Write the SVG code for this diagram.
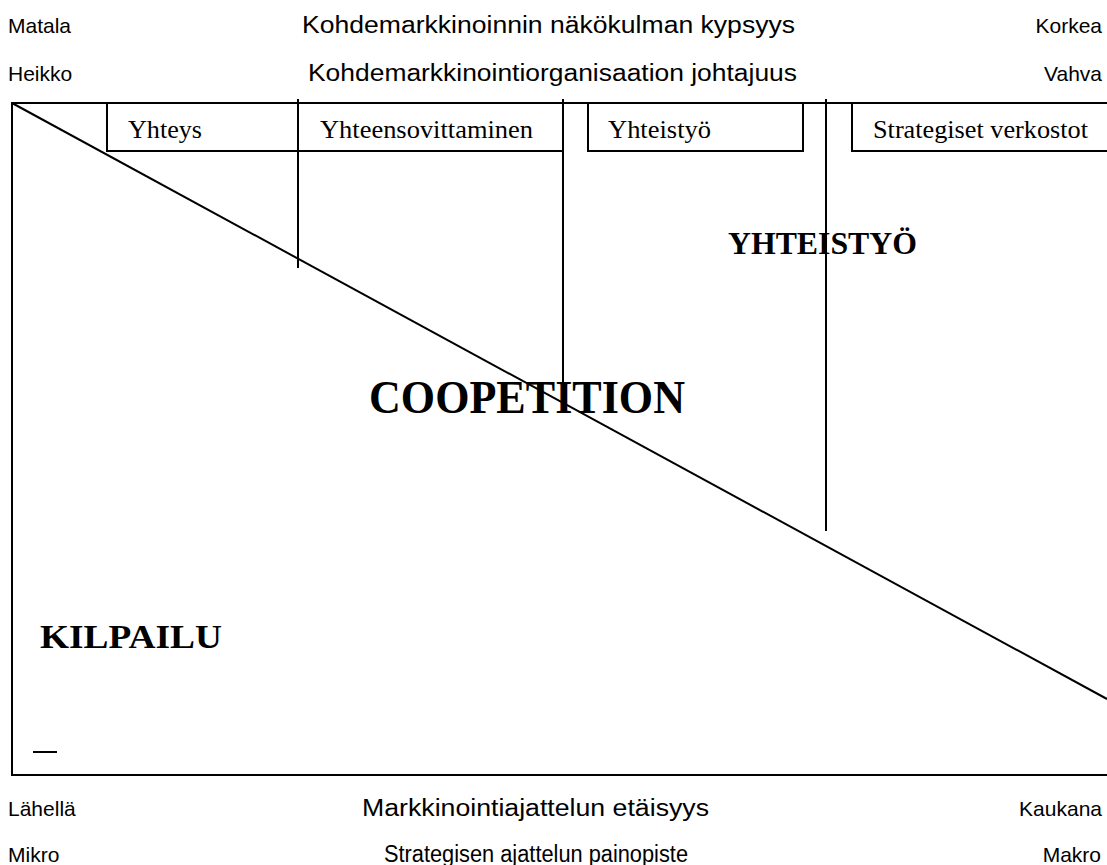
<svg xmlns="http://www.w3.org/2000/svg" width="1107" height="865" viewBox="0 0 1107 865">
  <style>
    .axis { font-family: "Liberation Sans", Arial, sans-serif; font-size: 21px; fill: #000; }
    .title { font-family: "Liberation Sans", Arial, sans-serif; font-size: 23px; fill: #000; }
    .box { fill: #fff; stroke: #000; stroke-width: 2; }
    .boxlabel { font-family: "Liberation Serif", "Times New Roman", serif; font-size: 26px; fill: #000; }
    .zone { font-family: "Liberation Serif", "Times New Roman", serif; font-weight: bold; fill: #000; }
    .line { stroke: #000; stroke-width: 2; fill: none; }
  </style>
  <rect width="1107" height="865" fill="#fff"/>

  <!-- axis captions above -->
  <g id="top-axis">
    <text class="axis" x="8" y="33">Matala</text>
    <text class="title" x="302" y="33" textLength="493" lengthAdjust="spacingAndGlyphs">Kohdemarkkinoinnin näkökulman kypsyys</text>
    <text class="axis" x="1102" y="33" text-anchor="end">Korkea</text>
    <text class="axis" x="8" y="81">Heikko</text>
    <text class="title" x="308" y="81" textLength="489" lengthAdjust="spacingAndGlyphs">Kohdemarkkinointiorganisaation johtajuus</text>
    <text class="axis" x="1102" y="81" text-anchor="end">Vahva</text>
  </g>

  <!-- frame -->
  <g id="frame">
    <polyline class="line" points="1107,103 12,103 12,775 1107,775"/>
    <line class="line" x1="33" y1="752" x2="57" y2="752"/>
  </g>

  <!-- stage boxes -->
  <g id="stage-yhteys">
    <rect class="box" x="107" y="103" width="191" height="48"/>
    <text class="boxlabel" x="128" y="138" textLength="74" lengthAdjust="spacingAndGlyphs">Yhteys</text>
  </g>
  <g id="stage-yhteensovittaminen">
    <rect class="box" x="298" y="103" width="265" height="48"/>
    <text class="boxlabel" x="320" y="138" textLength="213" lengthAdjust="spacingAndGlyphs">Yhteensovittaminen</text>
  </g>
  <g id="stage-yhteistyo">
    <rect class="box" x="588" y="103" width="215" height="48"/>
    <text class="boxlabel" x="608" y="138" textLength="103" lengthAdjust="spacingAndGlyphs">Yhteistyö</text>
  </g>
  <g id="stage-verkostot">
    <polyline class="line" points="1107,103 852,103 852,151 1107,151"/>
    <text class="boxlabel" x="873" y="138" textLength="215" lengthAdjust="spacingAndGlyphs">Strategiset verkostot</text>
  </g>

  <!-- connectors: diagonal divider and stage dividers -->
  <g id="connectors">
    <line class="line" x1="12" y1="103" x2="1107" y2="699"/>
    <line class="line" x1="298" y1="99" x2="298" y2="268"/>
    <line class="line" x1="563" y1="99" x2="563" y2="413"/>
    <line class="line" x1="826" y1="99" x2="826" y2="531"/>
  </g>

  <!-- zone labels -->
  <g id="zone-yhteistyo">
    <text class="zone" x="728" y="254" font-size="31" textLength="189" lengthAdjust="spacingAndGlyphs">YHTEISTYÖ</text>
  </g>
  <g id="zone-coopetition">
    <text class="zone" x="369" y="413" font-size="46" textLength="316" lengthAdjust="spacingAndGlyphs">COOPETITION</text>
  </g>
  <g id="zone-kilpailu">
    <text class="zone" x="40" y="648" font-size="33" textLength="182" lengthAdjust="spacingAndGlyphs">KILPAILU</text>
  </g>

  <!-- axis captions below -->
  <g id="bottom-axis">
    <text class="axis" x="8" y="816">Lähellä</text>
    <text class="title" x="362" y="816" textLength="347" lengthAdjust="spacingAndGlyphs">Markkinointiajattelun etäisyys</text>
    <text class="axis" x="1102" y="816" text-anchor="end">Kaukana</text>
    <text class="axis" x="8" y="862">Mikro</text>
    <text class="title" x="384" y="862" textLength="304" lengthAdjust="spacingAndGlyphs">Strategisen ajattelun painopiste</text>
    <text class="axis" x="1101" y="862" text-anchor="end">Makro</text>
  </g>
</svg>
